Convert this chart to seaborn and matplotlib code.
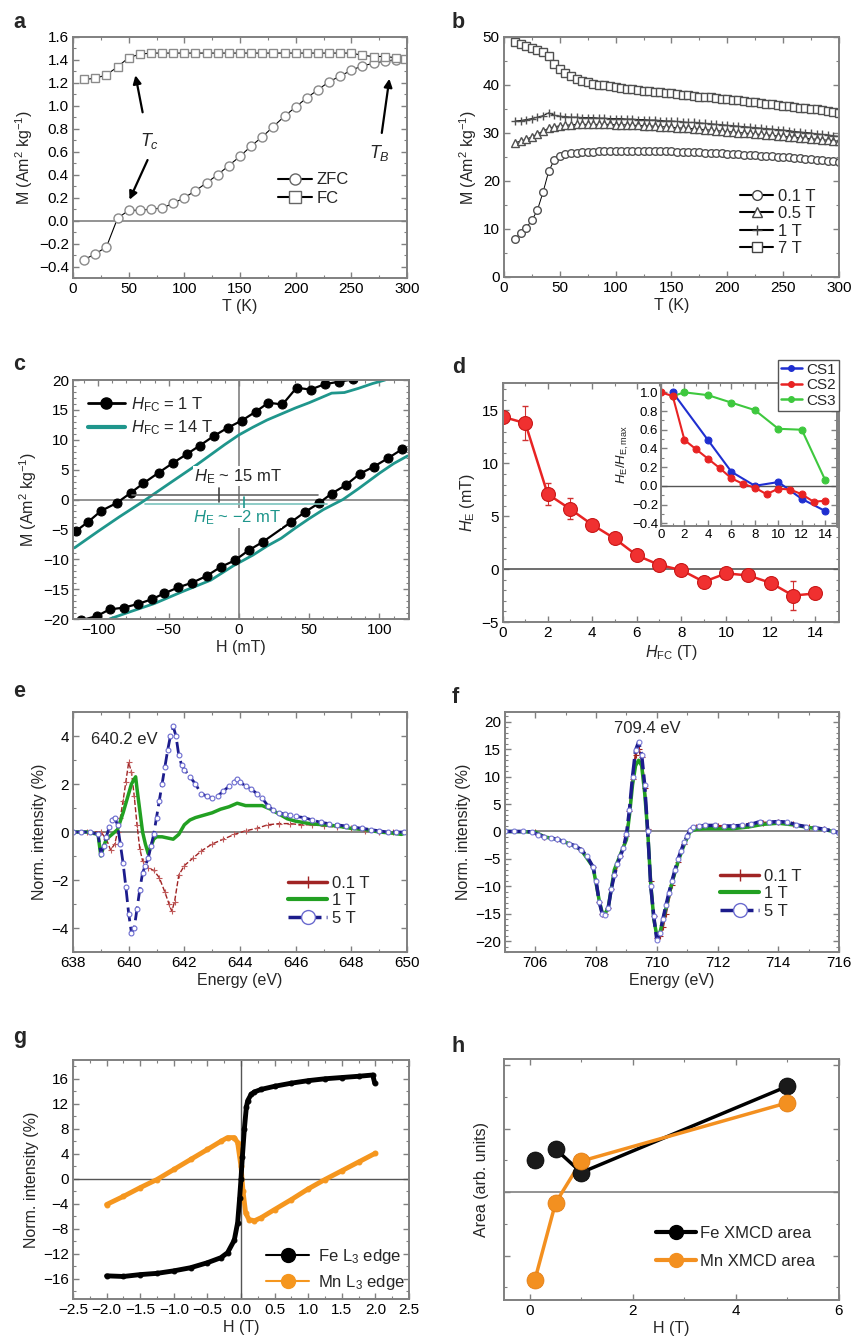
import matplotlib
matplotlib.use("Agg")
import numpy as np
import seaborn as sns
import matplotlib.pyplot as plt
from matplotlib.lines import Line2D
from matplotlib.ticker import MultipleLocator, NullFormatter

# ---------------- data ----------------
# a: ZFC / FC
a_T_zfc = [10, 20, 30, 40, 50, 60, 70, 80, 90, 100, 110, 120, 130, 140, 150, 160, 170, 180, 190, 200,
           210, 220, 230, 240, 250, 260, 270, 280, 290]
a_zfc = [-0.34, -0.29, -0.23, 0.02, 0.09, 0.09, 0.10, 0.11, 0.15, 0.20, 0.26, 0.33, 0.40, 0.48, 0.56,
         0.65, 0.73, 0.82, 0.91, 0.99, 1.07, 1.14, 1.21, 1.26, 1.31, 1.35, 1.37, 1.39, 1.40]
a_T_fc = [10, 20, 30, 40, 50, 60, 70, 80, 90, 100, 110, 120, 130, 140, 150, 160, 170, 180, 190, 200,
          210, 220, 230, 240, 250, 260, 270, 280, 290, 298]
a_fc = [1.23, 1.24, 1.27, 1.34, 1.42, 1.45, 1.46, 1.46, 1.46, 1.46, 1.46, 1.46, 1.46, 1.46, 1.46,
        1.46, 1.46, 1.46, 1.46, 1.46, 1.46, 1.46, 1.46, 1.46, 1.46, 1.44, 1.43, 1.43, 1.42, 1.41]

# b: M(T) at different fields, T = 10 ... 300 K every 5 K
b_T = list(range(10, 301, 5))
b_7T = [49.0, 48.6, 48.2, 47.8, 47.3, 46.9, 46.0, 44.3, 43.3, 42.4,
        41.8, 41.3, 40.9, 40.6, 40.3, 40.1, 39.9, 39.7, 39.6, 39.4,
        39.2, 39.1, 38.9, 38.8, 38.7, 38.6, 38.5, 38.4, 38.3, 38.1,
        38.0, 37.9, 37.8, 37.6, 37.5, 37.4, 37.3, 37.1, 37.0, 36.9,
        36.8, 36.7, 36.5, 36.4, 36.3, 36.1, 36.0, 35.9, 35.7, 35.6,
        35.4, 35.3, 35.2, 35.0, 34.9, 34.7, 34.5, 34.3, 34.1]
b_1T = [32.5, 32.6, 32.8, 33.0, 33.3, 33.6, 34.2, 33.7, 33.5, 33.4,
        33.3, 33.3, 33.2, 33.2, 33.2, 33.1, 33.1, 33.0, 33.0, 33.0,
        32.9, 32.9, 32.8, 32.8, 32.7, 32.7, 32.6, 32.5, 32.5, 32.4,
        32.3, 32.2, 32.2, 32.1, 32.0, 31.9, 31.8, 31.7, 31.6, 31.5,
        31.4, 31.3, 31.2, 31.1, 31.0, 30.9, 30.8, 30.7, 30.6, 30.5,
        30.3, 30.2, 30.1, 30.0, 29.8, 29.7, 29.6, 29.4, 29.3]
b_05T = [28.0, 28.3, 28.7, 29.2, 29.8, 30.4, 31.0, 31.3, 31.5, 31.6,
         31.7, 31.8, 31.8, 31.8, 31.8, 31.8, 31.8, 31.8, 31.7, 31.7,
         31.7, 31.6, 31.6, 31.5, 31.5, 31.4, 31.3, 31.3, 31.2, 31.1,
         31.0, 31.0, 30.9, 30.8, 30.7, 30.6, 30.5, 30.4, 30.3, 30.2,
         30.1, 30.0, 29.9, 29.8, 29.7, 29.6, 29.5, 29.4, 29.3, 29.2,
         29.1, 29.0, 28.9, 28.8, 28.7, 28.6, 28.5, 28.4, 28.3]
b_01T = [8.0, 9.1, 10.3, 11.8, 14.0, 17.7, 22.0, 24.4, 25.2, 25.6,
         25.8, 25.9, 26.0, 26.1, 26.1, 26.2, 26.2, 26.2, 26.2, 26.3,
         26.3, 26.3, 26.3, 26.3, 26.3, 26.2, 26.2, 26.2, 26.2, 26.1,
         26.1, 26.1, 26.0, 26.0, 25.9, 25.9, 25.8, 25.8, 25.7, 25.7,
         25.6, 25.5, 25.5, 25.4, 25.3, 25.3, 25.2, 25.1, 25.0, 24.9,
         24.8, 24.7, 24.6, 24.5, 24.4, 24.3, 24.2, 24.1, 24.0]

# c: hysteresis loops
c1_up_H = [-116, -107, -98, -87, -77, -68, -57, -47, -37, -28, -18, -8, 2, 12, 21, 31, 41, 51, 61, 71, 81]
c1_up_M = [-5.3, -3.7, -1.9, -0.6, 1.1, 2.7, 4.5, 6.1, 7.6, 9.0, 10.6, 12.0, 13.2, 14.7, 16.2, 15.9,
           18.7, 18.4, 19.3, 19.7, 20.1]
c1_dn_H = [-112, -101, -92, -82, -72, -62, -53, -43, -33, -23, -13, -3, 7, 17, 37, 47, 57, 66, 76, 86,
           96, 106, 116]
c1_dn_M = [-20.2, -19.5, -18.4, -18.1, -17.5, -16.7, -15.7, -14.7, -13.9, -12.8, -11.3, -10.2, -8.5,
           -7.1, -3.8, -2.1, -0.6, 1.0, 2.4, 4.3, 5.5, 6.9, 8.4]
c14_up_H = [-117, -100, -85, -68, -50, -30, -10, 0, 10, 20, 30, 40, 50, 60, 66, 75, 85, 95, 104]
c14_up_M = [-8.1, -5.3, -2.9, -0.3, 2.6, 5.8, 9.2, 10.8, 12.1, 13.3, 14.3, 15.3, 16.2, 17.2, 17.8,
            17.9, 18.6, 19.4, 20.0]
c14_dn_H = [-92, -80, -60, -40, -20, -4, 10, 20, 30, 40, 50, 60, 74, 85, 100, 110, 120]
c14_dn_M = [-20.0, -19.0, -17.4, -15.4, -13.5, -11.1, -9.3, -7.8, -6.5, -4.8, -3.2, -1.7, 0.0, 1.8,
            4.4, 6.0, 7.3]

# d: exchange bias vs cooling field
d_HFC = [0, 1, 2, 3, 4, 5, 6, 7, 8, 9, 10, 11, 12, 13, 14]
d_HE = [14.4, 13.8, 7.1, 5.7, 4.2, 2.9, 1.3, 0.4, -0.1, -1.2, -0.4, -0.6, -1.3, -2.5, -2.3]
d_err = [0.3, 1.6, 1.0, 1.0, 0.3, 0.3, 0.3, 0.3, 0.3, 0.3, 0.3, 0.3, 0.3, 1.4, 0.3]
d_cs1_H = [1, 4, 6, 8, 10, 12, 14]
d_cs1 = [1.0, 0.49, 0.15, 0.0, 0.04, -0.14, -0.27]
d_cs2_H = [0, 1, 2, 3, 4, 5, 6, 7, 8, 9, 10, 11, 12, 13, 14]
d_cs2 = [1.0, 0.96, 0.49, 0.39, 0.29, 0.19, 0.08, 0.02, -0.02, -0.09, -0.03, -0.04, -0.09, -0.17, -0.16]
d_cs3_H = [1, 2, 4, 6, 8, 10, 12, 14]
d_cs3 = [0.96, 1.0, 0.97, 0.89, 0.81, 0.61, 0.60, 0.06]

# e: Mn L-edge XMCD
e_E01 = [638.0, 638.5, 639.0, 639.2, 639.35, 639.5, 639.6, 639.7, 639.8, 639.9,
         640.0, 640.1, 640.2, 640.3, 640.4, 640.5, 640.7, 640.9, 641.1, 641.3,
         641.45, 641.55, 641.65, 641.8, 642.0, 642.3, 642.6, 643.0, 643.4, 643.8,
         644.2, 644.6, 645.0, 645.4, 645.8, 646.2, 646.6, 647.0, 647.5, 648.0,
         648.5, 649.0, 649.5, 650.0]
e_I01 = [0.0, 0.0, 0.0, -0.3, -0.75, -0.5, 0.0, 0.6, 1.3, 2.1,
         2.9, 2.5, 1.5, 0.3, -0.7, -1.2, -1.5, -1.6, -1.9, -2.5,
         -3.0, -3.3, -2.9, -1.8, -1.4, -1.1, -0.8, -0.5, -0.3, -0.1,
         0.05, 0.15, 0.3, 0.35, 0.35, 0.3, 0.3, 0.25, 0.2, 0.15,
         0.05, 0.0, 0.0, 0.0]
e_E1 = [638.0, 638.5, 638.9, 639.0, 639.1, 639.2, 639.4, 639.6, 639.8, 640.0,
        640.1, 640.2, 640.25, 640.3, 640.4, 640.5, 640.6, 640.7, 640.8, 640.9,
        641.0, 641.2, 641.4, 641.6, 641.8, 642.0, 642.2, 642.4, 642.7, 643.0,
        643.3, 643.6, 643.9, 644.2, 644.5, 644.8, 645.1, 645.4, 645.7, 646.0,
        646.5, 647.0, 647.5, 648.0, 648.5, 649.0, 649.5, 649.8, 650.0]
e_I1 = [0.0, 0.0, -0.1, -1.0, -0.6, -0.3, -0.1, 0.1, 0.8, 1.6,
        2.0, 2.2, 2.3, 1.8, 0.9, 0.0, -0.5, -0.9, -0.6, -0.3,
        -0.2, -0.2, -0.25, -0.3, -0.1, 0.3, 0.5, 0.6, 0.7, 0.8,
        0.95, 1.05, 1.2, 1.1, 1.1, 1.1, 0.95, 0.75, 0.55, 0.45,
        0.35, 0.3, 0.25, 0.15, 0.1, 0.0, -0.05, -0.1, 0.0]
e_E5 = [638.0, 638.3, 638.6, 638.9, 639.0, 639.1, 639.2, 639.3, 639.4, 639.5,
        639.6, 639.7, 639.8, 639.9, 640.0, 640.1, 640.2, 640.3, 640.4, 640.5,
        640.6, 640.7, 640.8, 640.9, 641.0, 641.1, 641.2, 641.3, 641.4, 641.5,
        641.6, 641.7, 641.8, 641.9, 642.0, 642.2, 642.4, 642.6, 642.8, 643.0,
        643.2, 643.4, 643.6, 643.8, 643.9, 644.0, 644.2, 644.4, 644.6, 644.8,
        645.0, 645.2, 645.4, 645.6, 645.8, 646.0, 646.3, 646.6, 646.9, 647.2,
        647.5, 647.8, 648.1, 648.4, 648.7, 649.0, 649.3, 649.6, 649.9]
e_I5 = [0.0, 0.0, 0.0, -0.1, -0.9, -0.6, -0.2, 0.2, 0.5, 0.6,
        0.3, -0.5, -1.3, -2.3, -3.4, -4.2, -4.0, -3.2, -2.4, -1.7,
        -1.4, -1.1, -0.6, -0.1, 0.6, 1.3, 2.0, 2.7, 3.4, 4.0,
        4.4, 4.0, 3.2, 2.8, 2.6, 2.3, 2.0, 1.6, 1.5, 1.4,
        1.5, 1.7, 1.9, 2.1, 2.2, 2.1, 1.9, 1.8, 1.6, 1.4,
        1.1, 0.9, 0.8, 0.75, 0.7, 0.65, 0.6, 0.5, 0.4, 0.35,
        0.3, 0.25, 0.2, 0.15, 0.1, 0.05, 0.0, 0.0, 0.0]

# f: Fe L-edge XMCD
f_E01 = [705.0, 706.0, 706.3, 706.7, 707.1, 707.5, 707.9, 708.1, 708.2, 708.3,
         708.4, 708.5, 708.6, 708.8, 709.0, 709.1, 709.2, 709.3, 709.4, 709.5,
         709.6, 709.7, 709.8, 709.9, 710.0, 710.1, 710.2, 710.3, 710.5, 710.7, 710.9,
         711.1, 711.3, 711.6, 712.0, 712.5, 713.0, 713.5, 714.0, 714.5, 715.0, 715.5, 716.0]
f_I01 = [0.0, -0.1, -1.0, -1.4, -2.2, -3.3, -6.5, -12.8, -15.0, -15.1,
         -13.9, -10.5, -8.0, -4.5, -0.8, 3.8, 9.5, 14.0, 15.0, 13.5,
         8.0, 0.5, -9.0, -15.5, -19.5, -19.0, -17.5, -15.0, -9.8, -5.6, -2.3,
         0.2, 0.8, 1.0, 1.0, 1.0, 1.1, 1.6, 1.7, 1.3, 0.8, 0.4, -0.3]
f_E1 = [705.0, 706.0, 706.3, 706.7, 707.1, 707.5, 707.9, 708.1, 708.2, 708.3,
        708.4, 708.5, 708.6, 708.8, 709.0, 709.1, 709.2, 709.3, 709.4, 709.5,
        709.6, 709.7, 709.8, 709.9, 710.0, 710.1, 710.3, 710.5, 710.7, 710.9,
        711.1, 711.3, 711.6, 712.0, 712.5, 713.0, 713.5, 714.0, 714.5, 715.0, 715.5, 716.0]
f_I1 = [0.0, -0.1, -1.0, -1.4, -2.2, -3.3, -6.5, -12.5, -14.8, -15.0,
        -13.8, -10.5, -7.0, -4.2, -1.5, 3.0, 8.5, 12.0, 13.0, 12.0,
        7.0, 0.0, -9.5, -16.0, -19.0, -18.5, -14.0, -9.3, -5.5, -2.4,
        0.0, 0.4, 0.5, 0.5, 0.5, 0.8, 1.3, 1.5, 1.2, 0.7, 0.4, -0.3]
f_E5 = [705.0, 705.3, 705.6, 705.9, 706.1, 706.3, 706.5, 706.7, 706.9, 707.1,
        707.3, 707.5, 707.7, 707.9, 708.0, 708.1, 708.2, 708.3, 708.4, 708.5,
        708.6, 708.7, 708.8, 708.9, 709.0, 709.1, 709.2, 709.3, 709.4, 709.5,
        709.6, 709.7, 709.8, 709.9, 710.0, 710.1, 710.2, 710.3, 710.4, 710.5,
        710.6, 710.7, 710.8, 710.9, 711.0, 711.1, 711.2, 711.4, 711.6, 711.9,
        712.2, 712.5, 712.8, 713.1, 713.4, 713.7, 714.0, 714.3, 714.6, 714.9,
        715.2, 715.5, 715.8, 716.0]
f_I5 = [0.0, 0.0, 0.0, -0.1, -0.6, -1.0, -1.2, -1.4, -1.8, -2.2,
        -2.6, -3.3, -4.5, -6.5, -9.0, -12.8, -15.0, -15.2, -14.0, -10.5,
        -8.0, -6.0, -4.5, -3.0, -0.5, 4.0, 10.0, 14.8, 16.3, 14.0,
        8.5, 0.0, -10.0, -15.5, -19.8, -18.6, -16.0, -13.5, -11.2, -9.0,
        -7.0, -5.0, -3.5, -2.0, -0.8, 0.3, 0.8, 1.0, 1.1, 1.1,
        1.0, 1.0, 1.1, 1.3, 1.8, 1.7, 1.8, 1.7, 1.2, 0.9,
        0.7, 0.4, 0.1, -0.3]

# g: element-specific hysteresis
g_fe_H = [-2.0, -1.75, -1.5, -1.25, -1.0, -0.75, -0.5, -0.3, -0.2, -0.1, -0.05, -0.02, 0.0, 0.02,
          0.05, 0.08, 0.1, 0.15, 0.2, 0.3, 0.5, 0.75, 1.0, 1.25, 1.5, 1.75, 1.96, 1.99]
g_fe_M = [-15.5, -15.6, -15.3, -15.1, -14.7, -14.2, -13.4, -12.6, -11.8, -9.8, -7.0, -3.0, 0.0, 3.5,
          8.0, 11.5, 12.5, 13.5, 13.9, 14.3, 14.8, 15.3, 15.7, 16.0, 16.2, 16.4, 16.6, 15.3]
g_mn_H = [-2.0, -1.75, -1.5, -1.25, -1.0, -0.75, -0.5, -0.3, -0.2, -0.1, -0.05, 0.0, 0.03, 0.07,
          0.12, 0.2, 0.3, 0.5, 0.75, 1.0, 1.25, 1.5, 1.75, 2.0]
g_mn_M = [-4.1, -2.8, -1.4, -0.1, 1.5, 3.1, 4.7, 6.0, 6.6, 6.6, 5.8, 2.0, -2.0, -5.5,
          -6.5, -6.7, -6.2, -4.9, -3.3, -1.6, -0.1, 1.3, 2.7, 4.1]

# h: XMCD areas
h_H = [0.1, 0.5, 1.0, 5.0]
h_fe = [0.51, 0.68, 0.31, 1.67]
h_mn = [-1.38, -0.17, 0.49, 1.41]

# ---------------- style ----------------
sns.set_theme(style="ticks")
plt.rcParams['font.family'] = ['Liberation Sans', 'DejaVu Sans']
plt.rcParams['mathtext.fontset'] = 'custom'
plt.rcParams['mathtext.rm'] = 'Liberation Sans'
plt.rcParams['mathtext.it'] = 'Liberation Sans:italic'
plt.rcParams['mathtext.bf'] = 'Liberation Sans:bold'
plt.rcParams['mathtext.default'] = 'regular'

W, H = 853, 1342
fig = plt.figure(figsize=(W / 100, H / 100), dpi=100)
GRAY = '#808080'
TICK = 11
LAB = 11.5
LEG = 12


def box(l, r, t, b):
    return [l / W, 1 - b / H, (r - l) / W, (b - t) / H]


def style(ax, xmaj, xmin, ymaj, ymin, size=TICK):
    for s in ax.spines.values():
        s.set_color(GRAY)
        s.set_linewidth(1.4)
    ax.xaxis.set_major_locator(MultipleLocator(xmaj))
    ax.xaxis.set_minor_locator(MultipleLocator(xmin))
    ax.yaxis.set_major_locator(MultipleLocator(ymaj))
    ax.yaxis.set_minor_locator(MultipleLocator(ymin))
    ax.tick_params(which='both', direction='in', top=True, right=True, color=GRAY,
                   labelsize=size, labelcolor='black', pad=3)
    ax.tick_params(which='major', length=4, width=1.0)
    ax.tick_params(which='minor', length=2, width=0.8)


def line(ax, x, y, **kw):
    sns.lineplot(x=x, y=y, ax=ax, estimator=None, errorbar=None, sort=False, legend=False, **kw)


def letter(x, y, s):
    fig.text(x / W, 1 - y / H, s, fontsize=15.5, fontweight='bold', ha='left', va='baseline')


# ---------------- a ----------------
ax = fig.add_axes(box(73, 407, 37, 278))
ax.axhline(0, color=GRAY, lw=1.2, zorder=1)
line(ax, a_T_zfc, a_zfc, color='black', linewidth=0.8, marker='o', markersize=6.5,
     markerfacecolor='white', markeredgecolor='#8a8a8a', markeredgewidth=1.0)
line(ax, a_T_fc, a_fc, color='black', linewidth=0.8, marker='s', markersize=6,
     markerfacecolor='white', markeredgecolor='#8a8a8a', markeredgewidth=1.0)
for tip, tail in [((55.6, 1.29), (63, 0.92)), ((49.7, 0.16), (68, 0.55)), ((284.5, 1.26), (277, 0.74))]:
    ax.annotate('', xy=tip, xytext=tail,
                arrowprops=dict(arrowstyle='-|>', color='black', lw=1.6, mutation_scale=12))
ax.text(69, 0.69, r'$\mathit{T_c}$', fontsize=13, ha='center', va='center')
ax.text(275.5, 0.59, r'$\mathit{T_B}$', fontsize=13, ha='center', va='center')
ax.set_xlim(0, 300)
ax.set_ylim(-0.5, 1.6)
style(ax, 50, 25, 0.2, 0.1)
ax.set_xlabel('T (K)', fontsize=LAB, labelpad=2)
ax.set_ylabel('M (Am$^2$ kg$^{-1}$)', fontsize=LAB, labelpad=3)
hd = [Line2D([0], [0], color='black', lw=1.5, marker=m, ms=8, mfc='white', mec='#666666')
      for m in ['o', 's']]
ax.legend(hd, ['ZFC', 'FC'], loc='upper left', bbox_to_anchor=(0.57, 0.50), frameon=False,
          fontsize=LEG, handlelength=2.0, handletextpad=0.3, labelspacing=0.2)
letter(13, 28, 'a')

# ---------------- b ----------------
ax = fig.add_axes(box(504, 839, 37, 277))
mk = dict(color='black', linewidth=0.7, markersize=5.5, markerfacecolor='white',
          markeredgecolor='#505050', markeredgewidth=1.0)
line(ax, b_T, b_7T, marker='s', **mk)
line(ax, b_T, b_05T, marker='^', **mk)
line(ax, b_T, b_1T, marker='+', **mk)
line(ax, b_T, b_01T, marker='o', **mk)
ax.set_xlim(0, 300)
ax.set_ylim(0, 50)
style(ax, 50, 25, 10, 5)
ax.set_xlabel('T (K)', fontsize=LAB, labelpad=2)
ax.set_ylabel('M (Am$^2$ kg$^{-1}$)', fontsize=LAB, labelpad=3)
hd = [Line2D([0], [0], color='black', lw=1.5, marker=m, ms=7, mfc='white', mec='#444444')
      for m in ['o', '^', '+', 's']]
ax.legend(hd, ['0.1 T', '0.5 T', '1 T', '7 T'], loc='upper left', bbox_to_anchor=(0.66, 0.43),
          frameon=False, fontsize=LEG, handlelength=2.0, handletextpad=0.3, labelspacing=0.15)
letter(452, 28, 'b')

# ---------------- c ----------------
TEAL = '#1f968c'
ax = fig.add_axes(box(73, 409, 380, 619))
ax.axhline(0, color=GRAY, lw=1.2, zorder=1)
ax.axvline(0, color=GRAY, lw=1.2, zorder=1)
for hx, my in [(c14_up_H, c14_up_M), (c14_dn_H, c14_dn_M)]:
    line(ax, hx, my, color=TEAL, linewidth=2.0)
for hx, my in [(c1_up_H, c1_up_M), (c1_dn_H, c1_dn_M)]:
    line(ax, hx, my, color='black', linewidth=1.6, marker='o', markersize=6.5,
         markerfacecolor='black', markeredgecolor='black')
ax.plot([-76, 56], [0.8, 0.8], color='#666666', lw=1.2, zorder=3)
ax.plot([-14, -14], [-0.5, 2.0], color='#444444', lw=1.2, zorder=3)
ax.plot([-67, 63], [-0.7, -0.7], color='#7cc4bd', lw=1.2, zorder=3)
ax.plot([3.5, 3.5], [-1.9, 0.5], color=TEAL, lw=1.2, zorder=3)
ax.text(-1, 3.9, r'$\mathit{H}_E$ ~ 15 mT', fontsize=12, ha='center', va='center', zorder=4,
        bbox=dict(facecolor='white', edgecolor='none', pad=0.5))
ax.text(-1, -3.1, r'$\mathit{H}_E$ ~ −2 mT', fontsize=12, ha='center', va='center', color=TEAL,
        zorder=4, bbox=dict(facecolor='white', edgecolor='none', pad=0.5))
ax.set_xlim(-118, 121)
ax.set_ylim(-20, 20)
style(ax, 50, 10, 5, 1)
ax.set_xlabel('H (mT)', fontsize=LAB, labelpad=2)
ax.set_ylabel('M (Am$^2$ kg$^{-1}$)', fontsize=LAB, labelpad=3)
hd = [Line2D([0], [0], color='black', lw=2, marker='o', ms=8),
      Line2D([0], [0], color=TEAL, lw=3)]
ax.legend(hd, [r'$\mathit{H}_{FC}$ = 1 T', r'$\mathit{H}_{FC}$ = 14 T'], loc='upper left',
          bbox_to_anchor=(0.0, 1.0), frameon=False, fontsize=LEG, handlelength=2.2,
          handletextpad=0.4, labelspacing=0.3)
letter(13, 370, 'c')

# ---------------- d ----------------
RED, BLUE, GREEN = '#e82323', '#1f2fd0', '#3ec83e'
ax = fig.add_axes(box(503, 839, 383, 622))
ax.axhline(0, color='#555555', lw=1.2, zorder=1)
ax.errorbar(d_HFC, d_HE, yerr=d_err, fmt='none', ecolor='#d03030', elinewidth=0.8, capsize=2)
line(ax, d_HFC, d_HE, color=RED, linewidth=1.8, marker='o', markersize=10,
     markerfacecolor='#f03030', markeredgecolor='#c81818', markeredgewidth=0.8)
ax.set_xlim(0, 15.06)
ax.set_ylim(-5, 17.6)
style(ax, 2, 1, 5, 1)
ax.set_xlabel(r'$\mathit{H}_{FC}$ (T)', fontsize=LAB, labelpad=2)
ax.set_ylabel(r'$\mathit{H}_E$ (mT)', fontsize=LAB, labelpad=3)
letter(452, 373, 'd')

ins = fig.add_axes(box(661, 837, 383, 526))
ins.set_facecolor('white')
ins.axhline(0, color='#555555', lw=1.0, zorder=1)
line(ins, d_cs3_H, d_cs3, color=GREEN, linewidth=1.5, marker='o', markersize=5,
     markerfacecolor=GREEN, markeredgecolor=GREEN)
line(ins, d_cs1_H, d_cs1, color=BLUE, linewidth=1.5, marker='o', markersize=5,
     markerfacecolor=BLUE, markeredgecolor=BLUE)
line(ins, d_cs2_H, d_cs2, color=RED, linewidth=1.5, marker='o', markersize=5,
     markerfacecolor=RED, markeredgecolor=RED)
ins.set_xlim(0, 15)
ins.set_ylim(-0.43, 1.1)
style(ins, 2, 1, 0.2, 0.1, size=9.5)
ins.tick_params(pad=2)
ins.set_ylabel(r'$\mathit{H}_E/\mathit{H}_{E,max}$', fontsize=9.5, labelpad=1)
hd = [Line2D([0], [0], color=c, lw=1.8, marker='o', ms=4) for c in [BLUE, RED, GREEN]]
fig.legend(hd, ['CS1', 'CS2', 'CS3'], loc='upper right', bbox_to_anchor=(847 / W, 1 - 352 / H),
           frameon=True, fancybox=False, edgecolor='#555555', framealpha=1, fontsize=11,
           handlelength=1.4, handletextpad=0.3, labelspacing=0.1, borderpad=0.2)

# ---------------- e ----------------
DRED, DGREEN, NAVY = '#a02424', '#22a022', '#1c1c8c'
ax = fig.add_axes(box(73, 407, 712, 952))
ax.axhline(0, color='#707070', lw=1.2, zorder=1)
line(ax, e_E01, e_I01, color=DRED, linewidth=1.0, linestyle='--', marker='+', markersize=4,
     markeredgecolor='#c05a5a', markeredgewidth=0.8)
line(ax, e_E1, e_I1, color=DGREEN, linewidth=2.5)
line(ax, e_E5, e_I5, color=NAVY, linewidth=2.0, linestyle=(0, (5, 2)), marker='o', markersize=3.5,
     markerfacecolor='white', markeredgecolor='#6b6bcf', markeredgewidth=0.8)
ax.text(639.85, 3.87, '640.2 eV', fontsize=12, ha='center', va='center')
ax.set_xlim(638, 650)
ax.set_ylim(-5, 5)
style(ax, 2, 1, 2, 1)
ax.set_xlabel('Energy (eV)', fontsize=LAB, labelpad=2)
ax.set_ylabel('Norm. intensity (%)', fontsize=LAB, labelpad=3)
hd = [Line2D([0], [0], color=DRED, lw=2.5, marker='|', ms=9, mec=DRED),
      Line2D([0], [0], color=DGREEN, lw=3),
      Line2D([0], [0], color=NAVY, lw=2.5, ls=(0, (4, 1.5)), marker='o', ms=10, mfc='white',
             mec='#6b6bcf')]
ax.legend(hd, ['0.1 T', '1 T', '5 T'], loc='upper left', bbox_to_anchor=(0.6, 0.38),
          frameon=False, fontsize=LEG, handlelength=2.3, handletextpad=0.3, labelspacing=0.15)
letter(13, 697, 'e')

# ---------------- f ----------------
ax = fig.add_axes(box(505, 839, 712, 952))
ax.axhline(0, color='#707070', lw=1.2, zorder=1)
line(ax, f_E01, f_I01, color=DRED, linewidth=1.5, marker='+', markersize=4,
     markeredgecolor=DRED, markeredgewidth=0.8)
line(ax, f_E1, f_I1, color=DGREEN, linewidth=2.5)
line(ax, f_E5, f_I5, color=NAVY, linewidth=2.5, linestyle=(0, (5, 1.5)), marker='o', markersize=3.5,
     markerfacecolor='white', markeredgecolor='#7a7ad6', markeredgewidth=0.8)
ax.text(709.7, 18.8, '709.4 eV', fontsize=12, ha='center', va='center')
ax.set_xlim(705, 716)
ax.set_ylim(-22, 21.8)
style(ax, 2, 1, 5, 1)
ax.set_xlabel('Energy (eV)', fontsize=LAB, labelpad=2)
ax.set_ylabel('Norm. intensity (%)', fontsize=LAB, labelpad=3)
ax.legend(hd, ['0.1 T', '1 T', '5 T'], loc='upper left', bbox_to_anchor=(0.6, 0.41),
          frameon=False, fontsize=LEG, handlelength=2.3, handletextpad=0.3, labelspacing=0.15)
letter(452, 703, 'f')

# ---------------- g ----------------
ORANGE = '#f5961e'
ax = fig.add_axes(box(73, 409, 1060, 1299))
ax.axhline(0, color='#555555', lw=1.0, zorder=1)
ax.axvline(0, color='#555555', lw=1.0, zorder=1)
line(ax, g_mn_H, g_mn_M, color=ORANGE, linewidth=3.5, marker='o', markersize=3.5,
     markerfacecolor=ORANGE, markeredgecolor=ORANGE)
line(ax, g_fe_H, g_fe_M, color='black', linewidth=3.5, marker='o', markersize=3.5,
     markerfacecolor='black', markeredgecolor='black')
ax.set_xlim(-2.5, 2.5)
ax.set_ylim(-19.2, 19)
style(ax, 0.5, 0.25, 4, 2)
ax.set_xlabel('H (T)', fontsize=LAB, labelpad=2)
ax.set_ylabel('Norm. intensity (%)', fontsize=LAB, labelpad=3)
hd = [Line2D([0], [0], color=c, lw=1.5, marker='o', ms=10, mec=c) for c in ['black', ORANGE]]
ax.legend(hd, ['Fe L$_3$ edge', 'Mn L$_3$ edge'], loc='upper left', bbox_to_anchor=(0.53, 0.28),
          frameon=False, fontsize=LEG, handlelength=2.6, handletextpad=0.5, labelspacing=0.4)
letter(13, 1043, 'g')

# ---------------- h ----------------
ORANGE_H = '#f39020'
ax = fig.add_axes(box(504, 839, 1059, 1300))
ax.axhline(0, color='#808080', lw=1.2, zorder=1)
line(ax, h_H[1:], h_fe[1:], color='black', linewidth=2.5)
sns.scatterplot(x=h_H, y=h_fe, ax=ax, color='#1a1a1a', s=150, edgecolor='black', linewidth=0.5,
                zorder=4, legend=False)
line(ax, h_H, h_mn, color=ORANGE_H, linewidth=2.5)
sns.scatterplot(x=h_H, y=h_mn, ax=ax, color=ORANGE_H, s=150, edgecolor='#e07a10', linewidth=0.5,
                zorder=5, legend=False)
ax.set_xlim(-0.5, 6)
ax.set_ylim(-1.7, 2.1)
style(ax, 2, 1, 1, 0.5)
ax.yaxis.set_major_formatter(NullFormatter())
ax.set_xlabel('H (T)', fontsize=LAB, labelpad=2)
ax.set_ylabel('Area (arb. units)', fontsize=LAB, labelpad=8)
hd = [Line2D([0], [0], color=c, lw=3, marker='o', ms=10, mec=c) for c in ['black', ORANGE_H]]
ax.legend(hd, ['Fe XMCD area', 'Mn XMCD area'], loc='upper left', bbox_to_anchor=(0.41, 0.37),
          frameon=False, fontsize=LEG, handlelength=2.4, handletextpad=0.2, labelspacing=0.8)
letter(452, 1052, 'h')

fig.savefig('out.png', dpi=100)
